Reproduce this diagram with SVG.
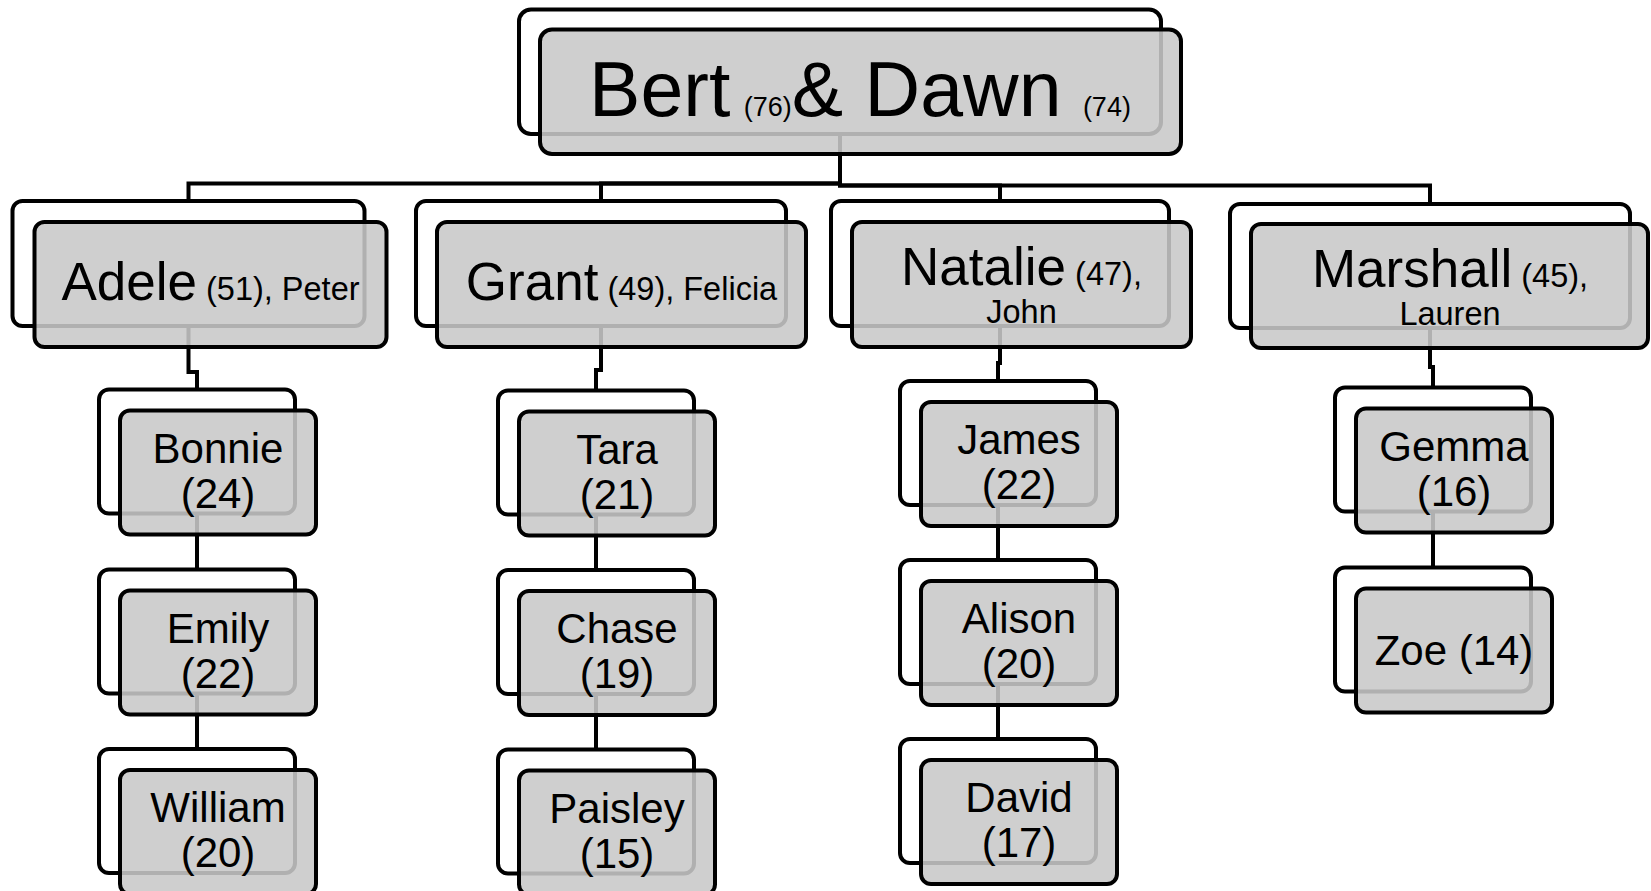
<svg xmlns="http://www.w3.org/2000/svg" width="1651" height="891" viewBox="0 0 1651 891">
<style>
.bk{fill:#fff;stroke:#000;stroke-width:4}
.fr{fill:#c8c8c8;fill-opacity:0.88;stroke:#000;stroke-width:4}
.cn{fill:none;stroke:#000;stroke-width:4}
text{font-family:"Liberation Sans",Arial,sans-serif;fill:#000;text-anchor:middle}
.big{font-size:53px}
.sm{font-size:32.5px}
.ch{font-size:42px}
</style>
<rect width="1651" height="891" fill="#fff"/>
<g id="connectors">
<path class="cn" d="M840,130 V183.5 H188.5 V201"/>
<path class="cn" d="M840,130 V183.5 H601 V201"/>
<path class="cn" d="M840,130 V185.5 H1000 V201"/>
<path class="cn" d="M840,130 V185.5 H1430 V204"/>
<path class="cn" d="M188.5,320 V372 H197 V389.5"/>
<path class="cn" d="M601,320 V370 H596 V390.5"/>
<path class="cn" d="M1000,320 V363 H998 V381"/>
<path class="cn" d="M1430,320 V367 H1433 V387.5"/>
<path class="cn" d="M197,510 V569.5"/>
<path class="cn" d="M197,690 V749"/>
<path class="cn" d="M596,510 V570"/>
<path class="cn" d="M596,690 V749.5"/>
<path class="cn" d="M998,500 V560"/>
<path class="cn" d="M998,680 V739"/>
<path class="cn" d="M1433,505 V567.5"/>
</g>
<g id="root">
<rect class="bk" x="519" y="9.5" width="642" height="124.5" rx="12"/>
<rect class="fr" x="540" y="29.5" width="641" height="124.5" rx="12"/>
<text x="860" y="116" font-size="77">Bert<tspan font-size="27" dx="6"> (76)</tspan>&amp; Dawn <tspan font-size="27">(74)</tspan></text>
</g>
<g id="adele">
<rect class="bk" x="12.5" y="201" width="352" height="125" rx="10"/>
<rect class="fr" x="34.5" y="222" width="352" height="125" rx="10"/>
<text x="210.5" y="300" class="big">Adele<tspan class="sm"> (51), Peter</tspan></text>
</g>
<g id="grant">
<rect class="bk" x="416" y="201" width="370" height="125" rx="10"/>
<rect class="fr" x="437" y="222" width="369" height="125" rx="10"/>
<text x="621.5" y="300" class="big">Grant<tspan class="sm"> (49), Felicia</tspan></text>
</g>
<g id="natalie">
<rect class="bk" x="831" y="201" width="338" height="125" rx="10"/>
<rect class="fr" x="852" y="222" width="339" height="125" rx="10"/>
<text x="1021.5" y="285" class="big">Natalie<tspan class="sm"> (47),</tspan></text>
<text x="1021.5" y="323" class="sm">John</text>
</g>
<g id="marshall">
<rect class="bk" x="1230" y="204" width="400" height="124" rx="10"/>
<rect class="fr" x="1251" y="224" width="397" height="124" rx="10"/>
<text x="1450" y="287" class="big">Marshall<tspan class="sm"> (45),</tspan></text>
<text x="1450" y="325" class="sm">Lauren</text>
</g>
<g id="bonnie">
<rect class="bk" x="99" y="389.5" width="196" height="124" rx="10"/>
<rect class="fr" x="120" y="410.5" width="196" height="124" rx="10"/>
<text x="218" y="462.5" class="ch">Bonnie</text>
<text x="218" y="507.5" class="ch">(24)</text>
</g>
<g id="emily">
<rect class="bk" x="99" y="569.5" width="196" height="124" rx="10"/>
<rect class="fr" x="120" y="590.5" width="196" height="124" rx="10"/>
<text x="218" y="642.5" class="ch">Emily</text>
<text x="218" y="687.5" class="ch">(22)</text>
</g>
<g id="william">
<rect class="bk" x="99" y="749" width="196" height="124" rx="10"/>
<rect class="fr" x="120" y="770" width="196" height="124" rx="10"/>
<text x="218" y="822" class="ch">William</text>
<text x="218" y="867" class="ch">(20)</text>
</g>
<g id="tara">
<rect class="bk" x="498" y="390.5" width="196" height="124" rx="10"/>
<rect class="fr" x="519" y="411.5" width="196" height="124" rx="10"/>
<text x="617" y="463.5" class="ch">Tara</text>
<text x="617" y="508.5" class="ch">(21)</text>
</g>
<g id="chase">
<rect class="bk" x="498" y="570" width="196" height="124" rx="10"/>
<rect class="fr" x="519" y="591" width="196" height="124" rx="10"/>
<text x="617" y="643" class="ch">Chase</text>
<text x="617" y="688" class="ch">(19)</text>
</g>
<g id="paisley">
<rect class="bk" x="498" y="749.5" width="196" height="124" rx="10"/>
<rect class="fr" x="519" y="770.5" width="196" height="124" rx="10"/>
<text x="617" y="822.5" class="ch">Paisley</text>
<text x="617" y="867.5" class="ch">(15)</text>
</g>
<g id="james">
<rect class="bk" x="900" y="381" width="196" height="124" rx="10"/>
<rect class="fr" x="921" y="402" width="196" height="124" rx="10"/>
<text x="1019" y="454" class="ch">James</text>
<text x="1019" y="499" class="ch">(22)</text>
</g>
<g id="alison">
<rect class="bk" x="900" y="560" width="196" height="124" rx="10"/>
<rect class="fr" x="921" y="581" width="196" height="124" rx="10"/>
<text x="1019" y="633" class="ch">Alison</text>
<text x="1019" y="678" class="ch">(20)</text>
</g>
<g id="david">
<rect class="bk" x="900" y="739" width="196" height="124" rx="10"/>
<rect class="fr" x="921" y="760" width="196" height="124" rx="10"/>
<text x="1019" y="812" class="ch">David</text>
<text x="1019" y="857" class="ch">(17)</text>
</g>
<g id="gemma">
<rect class="bk" x="1335" y="387.5" width="196" height="124" rx="10"/>
<rect class="fr" x="1356" y="408.5" width="196" height="124" rx="10"/>
<text x="1454" y="460.5" class="ch">Gemma</text>
<text x="1454" y="505.5" class="ch">(16)</text>
</g>
<g id="zoe">
<rect class="bk" x="1335" y="567.5" width="196" height="124" rx="10"/>
<rect class="fr" x="1356" y="588.5" width="196" height="124" rx="10"/>
<text x="1454" y="665" class="ch">Zoe (14)</text>
</g>
</svg>
